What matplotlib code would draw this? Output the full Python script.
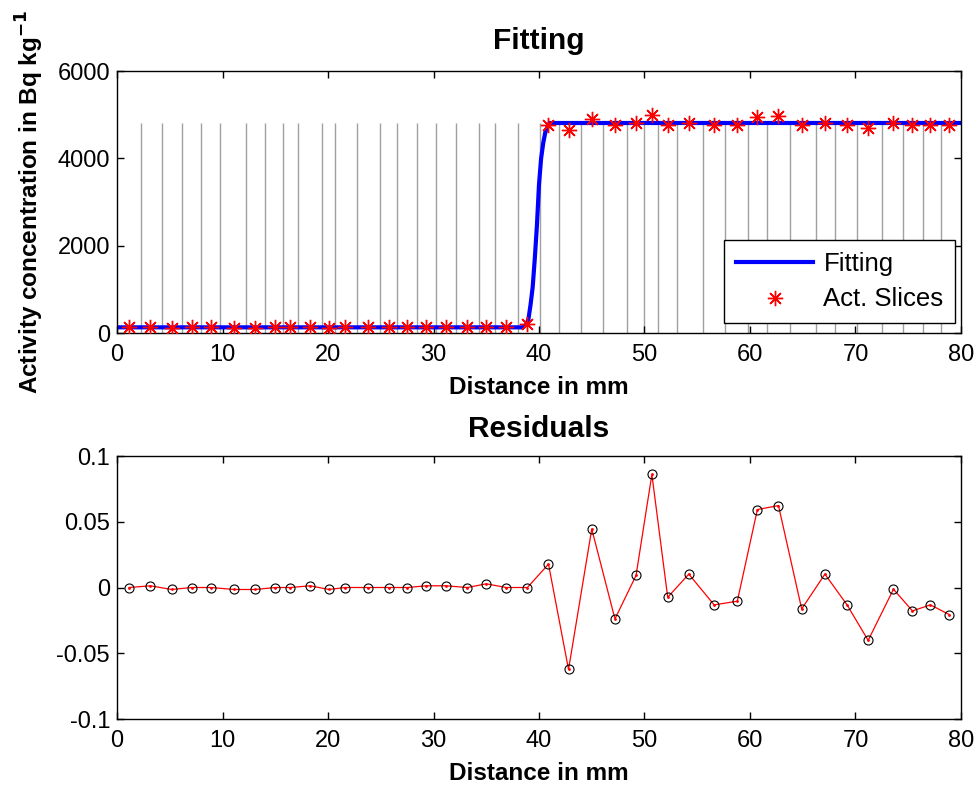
import numpy as np
import matplotlib
matplotlib.use('Agg')
import matplotlib.pyplot as plt

plt.rcParams['font.family'] = ['Liberation Sans', 'DejaVu Sans']

# slice centres (mm)
x_slice = [1.14, 3.16, 5.18, 7.08, 8.91, 11.1, 13.1, 15.0, 16.4, 18.3, 20.1,
           21.6, 23.8, 25.8, 27.5, 29.3, 31.2, 33.2, 35.0, 36.9, 38.9,
           40.9, 42.8, 45.0, 47.2, 49.2, 50.7, 52.2, 54.2, 56.6, 58.8,
           60.7, 62.7, 64.9, 67.1, 69.2, 71.2, 73.6, 75.4, 77.1, 78.9]
# measured activity of each slice
act = [130, 135, 125, 130, 130, 125, 125, 130, 130, 135, 125,
       130, 130, 130, 130, 135, 135, 130, 140, 130, 200,
       4753, 4639, 4907, 4753, 4806, 4983, 4753, 4815, 4753, 4753,
       4944, 4960, 4753, 4806, 4753, 4700, 4806, 4753, 4753, 4753]
# residuals
resid = [0.0, 0.0013, -0.0015, 0.0, 0.0, -0.0015, -0.0015, 0.0, 0.0, 0.0013, -0.0015,
         0.0, 0.0, 0.0, 0.0, 0.0013, 0.0013, 0.0, 0.0028, 0.0, 0.0,
         0.0178, -0.0623, 0.0445, -0.0239, 0.0092, 0.086, -0.0074, 0.0102, -0.0132, -0.0104,
         0.0593, 0.0623, -0.0163, 0.0102, -0.0132, -0.0402, -0.0013, -0.0178, -0.0132, -0.0206]

# fitted curve
x_fit = [0, 38.5, 38.8, 39.0, 39.2, 39.4, 39.6, 39.8, 40.0, 40.2, 40.4, 40.6, 40.8, 41.0, 80]
y_fit = [130, 130, 200, 320, 650, 1050, 1700, 2450, 3400, 4000, 4350, 4600, 4720, 4810, 4810]

# slice boundaries (mm)
bounds = [2.27, 4.29, 6.13, 7.96, 9.79, 12.20, 14.06, 15.71, 17.18, 19.40,
          20.66, 22.72, 24.93, 26.57, 28.41, 30.27, 32.13, 34.31, 35.80, 38.01,
          40.09, 41.90, 43.95, 46.09, 48.37, 49.98, 51.25, 53.08, 55.52, 57.63,
          59.78, 61.58, 63.79, 66.23, 68.06, 70.11, 72.48, 74.53, 76.37, 78.08]
bound_top = 4800

fig = plt.figure(figsize=(9.8, 7.91), dpi=100)
ax1 = fig.add_axes([0.1194, 0.579, 0.8612, 0.3312])
ax2 = fig.add_axes([0.1194, 0.091, 0.8612, 0.3325])

ax1.vlines(bounds, 0, bound_top, colors='#a0a0a0', linewidth=1, zorder=1)
ax1.plot(x_fit, y_fit, color='#0000ff', linewidth=3, label='Fitting', zorder=2)
ax1.plot(x_slice, act, color='red', linestyle='none', marker=(8, 2, 0), markersize=11,
         markeredgewidth=1, label='Act. Slices', zorder=3)
ax1.set_xlim(0, 80)
ax1.set_ylim(0, 6000)
ax1.set_xticks(np.arange(0, 81, 10))
ax1.set_yticks([0, 2000, 4000, 6000])
ax1.set_title('Fitting', fontsize=21.5, fontweight='bold', pad=16)
ax1.set_xlabel('Distance in mm', fontsize=17.5, fontweight='bold', labelpad=7)
ax1.set_ylabel('Activity concentration in Bq kg$^{\\mathbf{-1}}$', fontsize=17.5,
               fontweight='bold', labelpad=8)
leg = ax1.legend(loc='lower right', fontsize=18.5, frameon=True, fancybox=False,
                 edgecolor='black', framealpha=1, handlelength=3.0, handletextpad=0.4,
                 borderpad=0.45, labelspacing=0.45, borderaxespad=0,
                 bbox_to_anchor=(0.993, 0.038))
leg.get_frame().set_linewidth(1)

ax2.plot(x_slice, resid, color='red', linewidth=0.9, zorder=2)
ax2.plot(x_slice, resid, 'o', markerfacecolor='none', markeredgecolor='black',
         markersize=6.5, markeredgewidth=0.8, zorder=3)
ax2.plot(x_slice, resid, '.', color='red', markersize=2, zorder=4)
ax2.set_xlim(0, 80)
ax2.set_ylim(-0.1, 0.1)
ax2.set_xticks(np.arange(0, 81, 10))
ax2.set_yticks([-0.1, -0.05, 0, 0.05, 0.1])
ax2.set_yticklabels(['-0.1', '-0.05', '0', '0.05', '0.1'])
ax2.set_title('Residuals', fontsize=21.5, fontweight='bold', pad=14)
ax2.set_xlabel('Distance in mm', fontsize=17.5, fontweight='bold', labelpad=7)

for ax in (ax1, ax2):
    ax.tick_params(direction='in', top=True, right=True, labelsize=17, length=5, width=1)
    ax.tick_params(axis='x', pad=8)
    ax.tick_params(axis='y', pad=5)
    for s in ax.spines.values():
        s.set_linewidth(1)

fig.savefig('out.png', dpi=100)
